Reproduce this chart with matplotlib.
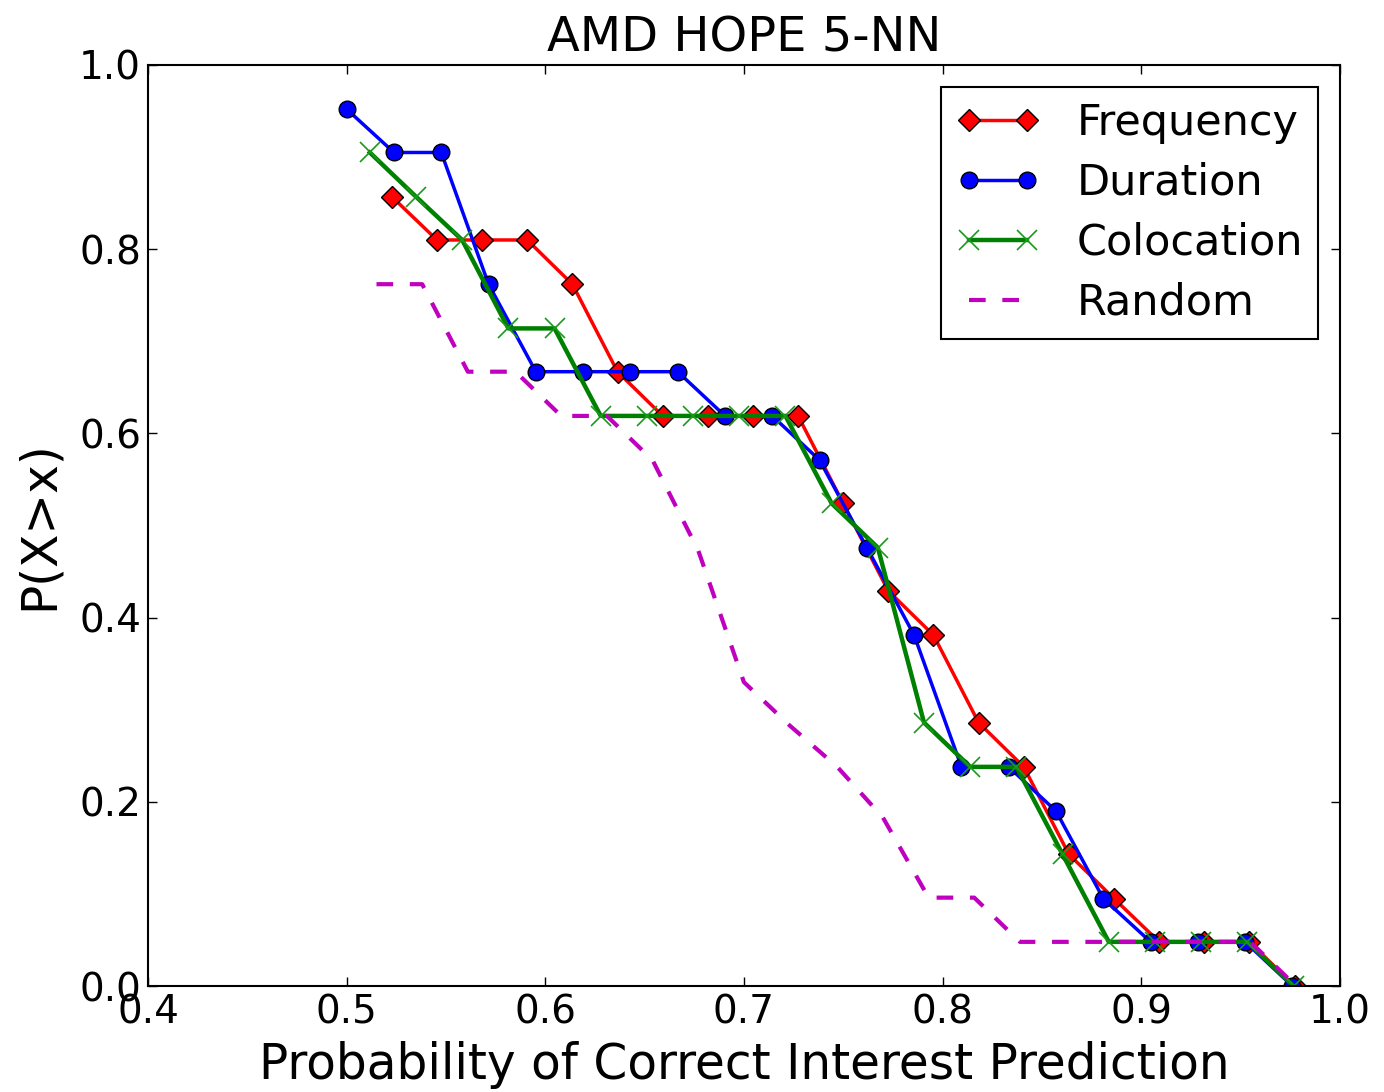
import matplotlib
matplotlib.use("Agg")
import matplotlib.pyplot as plt

# data
freq_x = [k / 44 for k in range(23, 44)]
freq_y = [0.857, 0.810, 0.810, 0.810, 0.762, 0.667, 0.619, 0.619, 0.619, 0.619,
          0.524, 0.429, 0.381, 0.286, 0.238, 0.143, 0.095, 0.048, 0.048, 0.048, 0.0]

dur_x = [k / 42 for k in range(21, 42)]
dur_y = [0.952, 0.905, 0.905, 0.762, 0.667, 0.667, 0.667, 0.667, 0.619, 0.619,
         0.571, 0.476, 0.381, 0.238, 0.238, 0.190, 0.095, 0.048, 0.048, 0.048, 0.0]

coloc_x = [k / 43 for k in range(22, 43)]
coloc_y = [0.905, 0.857, 0.810, 0.714, 0.714, 0.619, 0.619, 0.619, 0.619, 0.619,
           0.524, 0.476, 0.286, 0.238, 0.238, 0.143, 0.048, 0.048, 0.048, 0.048, 0.0]

rand_x = [0.515, 0.538, 0.561, 0.585, 0.608, 0.631, 0.654, 0.677, 0.700, 0.723,
          0.747, 0.770, 0.793, 0.816, 0.839, 0.862, 0.885, 0.909, 0.932, 0.955, 0.978]
rand_y = [0.762, 0.762, 0.667, 0.667, 0.619, 0.619, 0.571, 0.473, 0.330, 0.283,
          0.238, 0.183, 0.096, 0.096, 0.048, 0.048, 0.048, 0.048, 0.048, 0.048, 0.0]

labels = ["Frequency", "Duration", "Colocation", "Random"]

fig = plt.figure(figsize=(13.84, 10.92), dpi=100)
ax = fig.add_axes([0.107, 0.097, 0.861, 0.8435])

ax.plot(freq_x, freq_y, "rD-", lw=2.5, ms=11, mec="k", label=labels[0])
ax.plot(dur_x, dur_y, "bo-", lw=2.5, ms=12, mec="k", label=labels[1])
ax.plot(coloc_x, coloc_y, "-", color=(0, 0.5, 0), marker="x", lw=3.2, ms=14,
        mew=1.2, mec=(0.1, 0.6, 0.1), label=labels[2])
ax.plot(rand_x, rand_y, "--", color=(0.75, 0, 0.75), lw=3, dashes=(4, 4),
        label=labels[3])

ax.set_xlim(0.4, 1.0)
ax.set_ylim(0.0, 1.0)
ax.set_xticks([0.4, 0.5, 0.6, 0.7, 0.8, 0.9, 1.0])
ax.set_yticks([0.0, 0.2, 0.4, 0.6, 0.8, 1.0])
ax.tick_params(direction="in", length=6.5, width=1, labelsize=28, pad=5,
               top=True, right=True)
for s in ax.spines.values():
    s.set_linewidth(1.5)

ax.set_title("AMD HOPE 5-NN", fontsize=34.5, pad=10)
ax.set_xlabel("Probability of Correct Interest Prediction", fontsize=35, labelpad=7)
ax.set_ylabel("P(X>x)", fontsize=35, labelpad=12)

leg = ax.legend(loc="upper right", fontsize=31, numpoints=2, fancybox=False,
                framealpha=1, edgecolor="k", handlelength=1.95, borderaxespad=0.5,
                labelspacing=0.42, handletextpad=0.85, borderpad=0.35)
leg.get_frame().set_linewidth(1.5)

fig.savefig("out.png", dpi=100)
